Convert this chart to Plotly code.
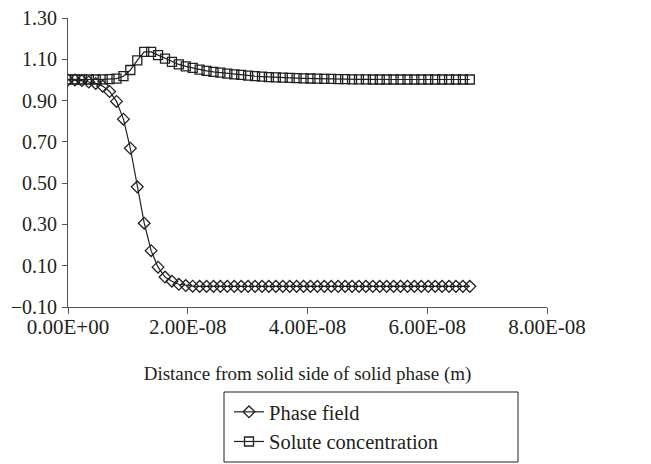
import plotly.graph_objects as go

# distance (nm), converted to metres below
distance_nm = [0.00, 1.16, 2.31, 3.47, 4.63, 5.79, 6.94, 8.10, 9.26, 10.41,
               11.57, 12.73, 13.88, 15.04, 16.20, 17.36, 18.51, 19.67, 20.83, 21.98,
               23.14, 24.30, 25.45, 26.61, 27.77, 28.93, 30.08, 31.24, 32.40, 33.55,
               34.71, 35.87, 37.03, 38.18, 39.34, 40.50, 41.65, 42.81, 43.97, 45.12,
               46.28, 47.44, 48.60, 49.75, 50.91, 52.07, 53.22, 54.38, 55.54, 56.70,
               57.85, 59.01, 60.17, 61.32, 62.48, 63.64, 64.79, 65.95, 67.11]

phase_field = [1.000, 1.000, 0.997, 0.990, 0.983, 0.970, 0.944, 0.896, 0.810, 0.669,
               0.482, 0.306, 0.173, 0.093, 0.045, 0.025, 0.010, 0.004, 0.001, 0.000,
               0.000, 0.000, 0.000, 0.000, 0.000, 0.000, 0.000, 0.000, 0.000, 0.000,
               0.000, 0.000, 0.000, 0.000, 0.000, 0.000, 0.000, 0.000, 0.000, 0.000,
               0.000, 0.000, 0.000, 0.000, 0.000, 0.000, 0.000, 0.000, 0.000, 0.000,
               0.000, 0.000, 0.000, 0.000, 0.000, 0.000, 0.000, 0.000, 0.000]

solute_conc = [1.003, 1.002, 1.002, 1.002, 1.002, 1.003, 1.004, 1.006, 1.018, 1.048,
               1.095, 1.136, 1.136, 1.120, 1.103, 1.087, 1.075, 1.066, 1.058, 1.050,
               1.044, 1.039, 1.035, 1.031, 1.027, 1.024, 1.021, 1.018, 1.016, 1.014,
               1.012, 1.011, 1.010, 1.009, 1.008, 1.007, 1.006, 1.005, 1.005, 1.004,
               1.004, 1.003, 1.003, 1.003, 1.002, 1.002, 1.002, 1.002, 1.002, 1.002,
               1.002, 1.002, 1.002, 1.002, 1.002, 1.002, 1.002, 1.002, 1.002]

x_tick_vals = [0, 2e-8, 4e-8, 6e-8, 8e-8]
x_tick_text = ["0.00E+00", "2.00E-08", "4.00E-08", "6.00E-08", "8.00E-08"]
y_tick_vals = [-0.1, 0.1, 0.3, 0.5, 0.7, 0.9, 1.1, 1.3]

x_m = [d * 1e-9 for d in distance_nm]

FONT = "Liberation Serif, Times New Roman, serif"
INK = "#231f20"

# page body has an 8px default margin; plot area spans x 68..547, y 18..307 on screen
PW, PH = 479, 289
BOTTOM = 307

fig = go.Figure()
fig.add_trace(go.Scatter(
    x=x_m, y=phase_field, mode="lines+markers", name="Phase field",
    line=dict(color=INK, width=1.2),
    marker=dict(symbol="diamond-open", size=9, color=INK, line=dict(width=1.3)),
))
fig.add_trace(go.Scatter(
    x=x_m, y=solute_conc, mode="lines+markers", name="Solute concentration",
    line=dict(color=INK, width=1.2),
    marker=dict(symbol="square-open", size=9, color=INK, line=dict(width=1.3)),
))

fig.update_layout(
    width=643, height=456,
    margin=dict(l=60, r=104, t=10, b=157, autoexpand=False),
    paper_bgcolor="white", plot_bgcolor="white",
    font=dict(family=FONT, size=20, color=INK),
    showlegend=True,
    legend=dict(
        x=(229 - 68) / PW, y=(BOTTOM - 392) / PH, xanchor="left", yanchor="top",
        bgcolor="rgba(0,0,0,0)", borderwidth=0,
        font=dict(family=FONT, size=20.5, color=INK),
        tracegroupgap=0, itemwidth=30,
    ),
    xaxis=dict(
        range=[0, 8e-8], tickvals=x_tick_vals, ticktext=x_tick_text,
        showgrid=False, zeroline=False, showline=True, linecolor="#555555", linewidth=1,
        ticks="outside", ticklen=6, tickcolor="#555555", automargin=False,
        title=dict(text="Distance from solid side of solid phase (m)", standoff=28,
                   font=dict(family=FONT, size=19, color=INK)),
        tickfont=dict(family=FONT, size=21, color=INK),
        ticklabelstandoff=-5, ticklabeloverflow="allow",
    ),
    yaxis=dict(
        range=[-0.1, 1.3], tickvals=y_tick_vals, tickformat=".2f",
        showgrid=False, zeroline=False, showline=True, linecolor="#555555", linewidth=1,
        ticks="outside", ticklen=5, tickcolor="#555555", automargin=False,
        tickfont=dict(family=FONT, size=20, color=INK),
        ticklabelstandoff=1, ticklabeloverflow="allow",
    ),
    shapes=[dict(
        type="rect", xref="paper", yref="paper",
        x0=(224 - 68) / PW, x1=(518 - 68) / PW,
        y0=(BOTTOM - 462) / PH, y1=(BOTTOM - 392) / PH,
        line=dict(color=INK, width=1), fillcolor="rgba(0,0,0,0)",
    )],
)

fig.write_html("out.html")
